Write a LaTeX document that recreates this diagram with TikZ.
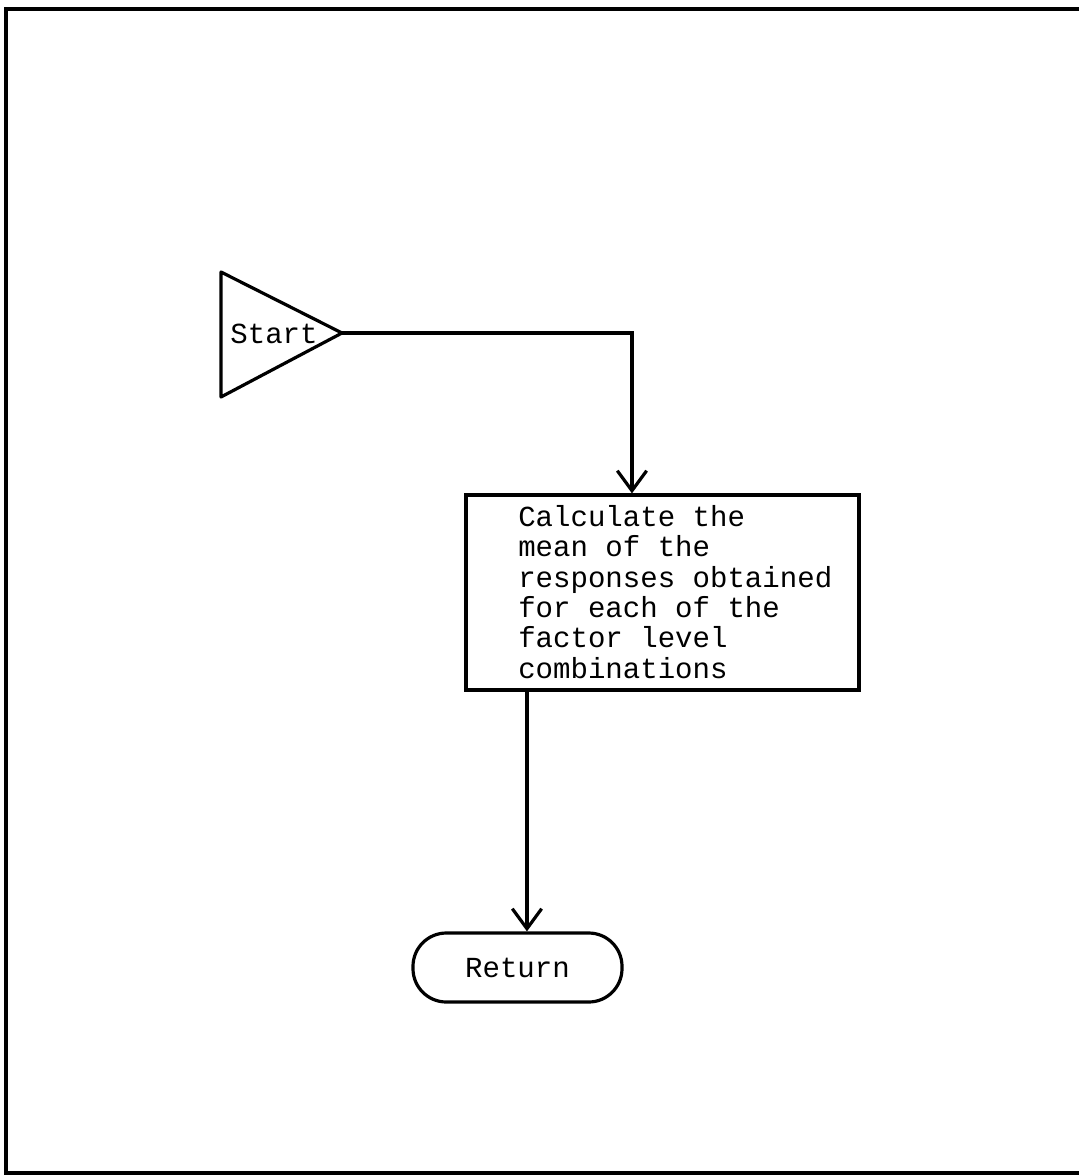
\documentclass[tikz,border=0pt]{standalone}
\usepackage{fontspec}
\setmonofont{Liberation Mono}
\usetikzlibrary{arrows.meta, positioning}

\tikzset{
  flowline/.style={line width=2.4pt},
  flowarrow/.style={flowline, -{Straight Barb[length=15pt, width=22pt]}},
  flowtext/.style={font=\fontsize{21.8}{22.8}\selectfont\ttfamily, inner sep=0pt},
  procbox/.style={draw, line width=2.4pt, minimum width=294.75pt, minimum height=146.25pt, inner sep=0pt},
  termbox/.style={draw, line width=2.4pt, rounded corners=25pt, minimum width=156.75pt, minimum height=51.75pt, flowtext}
}

\begin{document}
\begin{tikzpicture}[x=0.75pt, y=-0.75pt]
  \useasboundingbox (0,0) rectangle (1079,1175);

  % Page frame (open on the right)
  \draw[flowline] (1079,9) -- (6,9) -- (6,1173) -- (1079,1173);

  % Start terminal
  \draw[flowline, line join=round] (221,272) -- (342,333) -- (221,397) -- cycle;
  \node[flowtext] (start) at (274,334) {Start};
  \coordinate (startapex) at (342,333);

  % Process box
  \node[procbox] (calc) at (662.5,592.5) {};
  \node[flowtext, anchor=north west, align=left] (calctext) at (518,505)
    {Calculate the\\mean of the\\responses obtained\\for each of the\\factor level\\combinations};

  % Return terminal
  \node[termbox] (ret) at (517.5,967.5) {Return};

  % Connectors
  \coordinate (calcin) at ([xshift=-22.9pt]calc.north);
  \coordinate (retin) at ([xshift=7.1pt]ret.north);
  \draw[flowarrow] (startapex) -| (calcin);
  \draw[flowarrow] (retin |- calc.south) -- (retin);
\end{tikzpicture}
\end{document}
